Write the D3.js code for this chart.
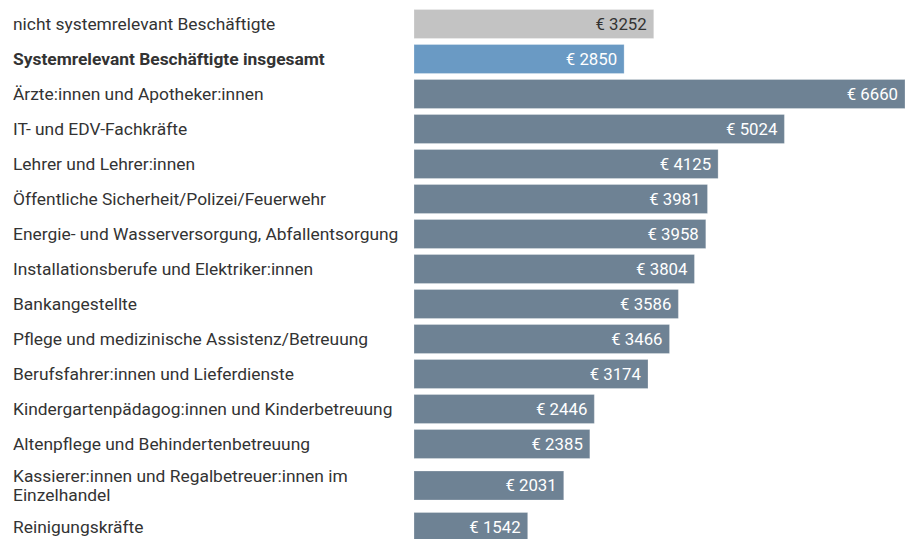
<!DOCTYPE html>
<html>
<head>
<meta charset="utf-8">
<script src="https://cdn.jsdelivr.net/npm/d3@7"></script>
<style>
  body { margin: 0; background: #fff; font-family: Roboto, sans-serif; }
  .label { font-size: 17.4px; fill: #333; }
  .value { font-size: 16.8px; }
</style>
</head>
<body>
<div id="chart"></div>
<script>
// data
const categories = [
  'nicht systemrelevant Beschäftigte',
  'Systemrelevant Beschäftigte insgesamt',
  'Ärzte:innen und Apotheker:innen',
  'IT- und EDV-Fachkräfte',
  'Lehrer und Lehrer:innen',
  'Öffentliche Sicherheit/Polizei/Feuerwehr',
  'Energie- und Wasserversorgung, Abfallentsorgung',
  'Installationsberufe und Elektriker:innen',
  'Bankangestellte',
  'Pflege und medizinische Assistenz/Betreuung',
  'Berufsfahrer:innen und Lieferdienste',
  'Kindergartenpädagog:innen und Kinderbetreuung',
  'Altenpflege und Behindertenbetreuung',
  'Kassierer:innen und Regalbetreuer:innen im Einzelhandel',
  'Reinigungskräfte'
];
const values = [3252, 2850, 6660, 5024, 4125, 3981, 3958, 3804, 3586, 3466, 3174, 2446, 2385, 2031, 1542];
const groups = ['other', 'total', 'job', 'job', 'job', 'job', 'job', 'job', 'job', 'job', 'job', 'job', 'job', 'job', 'job'];

const width = 905, height = 539;
const barLeft = 414;
const rowStep = 35, barH = 29, marginTop = 9.5;

const colors = { other: '#c3c3c3', total: '#6a9ac4', job: '#6e8294' };
const textColors = { other: '#333', total: '#fff', job: '#fff' };

const svg = d3.select('#chart').append('svg')
  .attr('width', width)
  .attr('height', height);

const x = d3.scaleLinear().domain([0, d3.max(values)]).range([barLeft, width]);
// range chosen so the step is exactly rowStep
const y = d3.scaleBand().domain(categories)
  .range([marginTop, marginTop + rowStep * categories.length - (rowStep - barH)])
  .paddingInner((rowStep - barH) / rowStep)
  .paddingOuter(0);

// wrap long labels, extra space for multi-line rows
const measure = svg.append('text').attr('class', 'label');
function wrapLines(str, maxW) {
  const words = str.split(' ');
  const lines = [];
  let line = [];
  words.forEach(w => {
    line.push(w);
    measure.text(line.join(' '));
    if (measure.node().getComputedTextLength() > maxW && line.length > 1) {
      line.pop();
      lines.push(line.join(' '));
      line = [w];
    }
  });
  lines.push(line.join(' '));
  return lines;
}
const labelLines = categories.map(c => wrapLines(c, 400));
measure.remove();

const extraPerLine = 13;
let acc = 0;
const offsets = labelLines.map(l => {
  const half = (l.length - 1) * extraPerLine / 2;
  acc += half;
  const o = acc;
  acc += half;
  return o;
});

const rows = categories.map((c, i) => ({
  name: c, value: values[i], group: groups[i], lines: labelLines[i],
  y: y(c) + offsets[i]
}));

const row = svg.selectAll('g.row')
  .data(rows)
  .enter().append('g')
  .attr('class', 'row')
  .attr('transform', d => 'translate(0,' + d.y + ')');

row.append('rect')
  .attr('x', x(0))
  .attr('y', 0)
  .attr('width', d => x(d.value) - x(0))
  .attr('height', y.bandwidth())
  .attr('fill', d => colors[d.group])
  .attr('stroke', '#fff')
  .attr('stroke-opacity', 0.25)
  .attr('stroke-width', 1);

row.append('text')
  .attr('class', 'value')
  .attr('x', d => x(d.value) - 7)
  .attr('y', y.bandwidth() / 2)
  .attr('dy', '0.35em')
  .attr('text-anchor', 'end')
  .attr('fill', d => textColors[d.group])
  .text(d => '€ ' + d.value);

const lineH = 19.5;
const label = row.append('text')
  .attr('class', 'label')
  .attr('x', 13)
  .style('font-weight', d => d.group === 'total' ? 700 : 400);

label.selectAll('tspan')
  .data(d => d.lines.map((t, j) => ({ t, j, n: d.lines.length })))
  .enter().append('tspan')
  .attr('x', 13)
  .attr('y', t => y.bandwidth() / 2 + (t.j - (t.n - 1) / 2) * lineH)
  .attr('dy', '0.35em')
  .text(t => t.t);
</script>
</body>
</html>
